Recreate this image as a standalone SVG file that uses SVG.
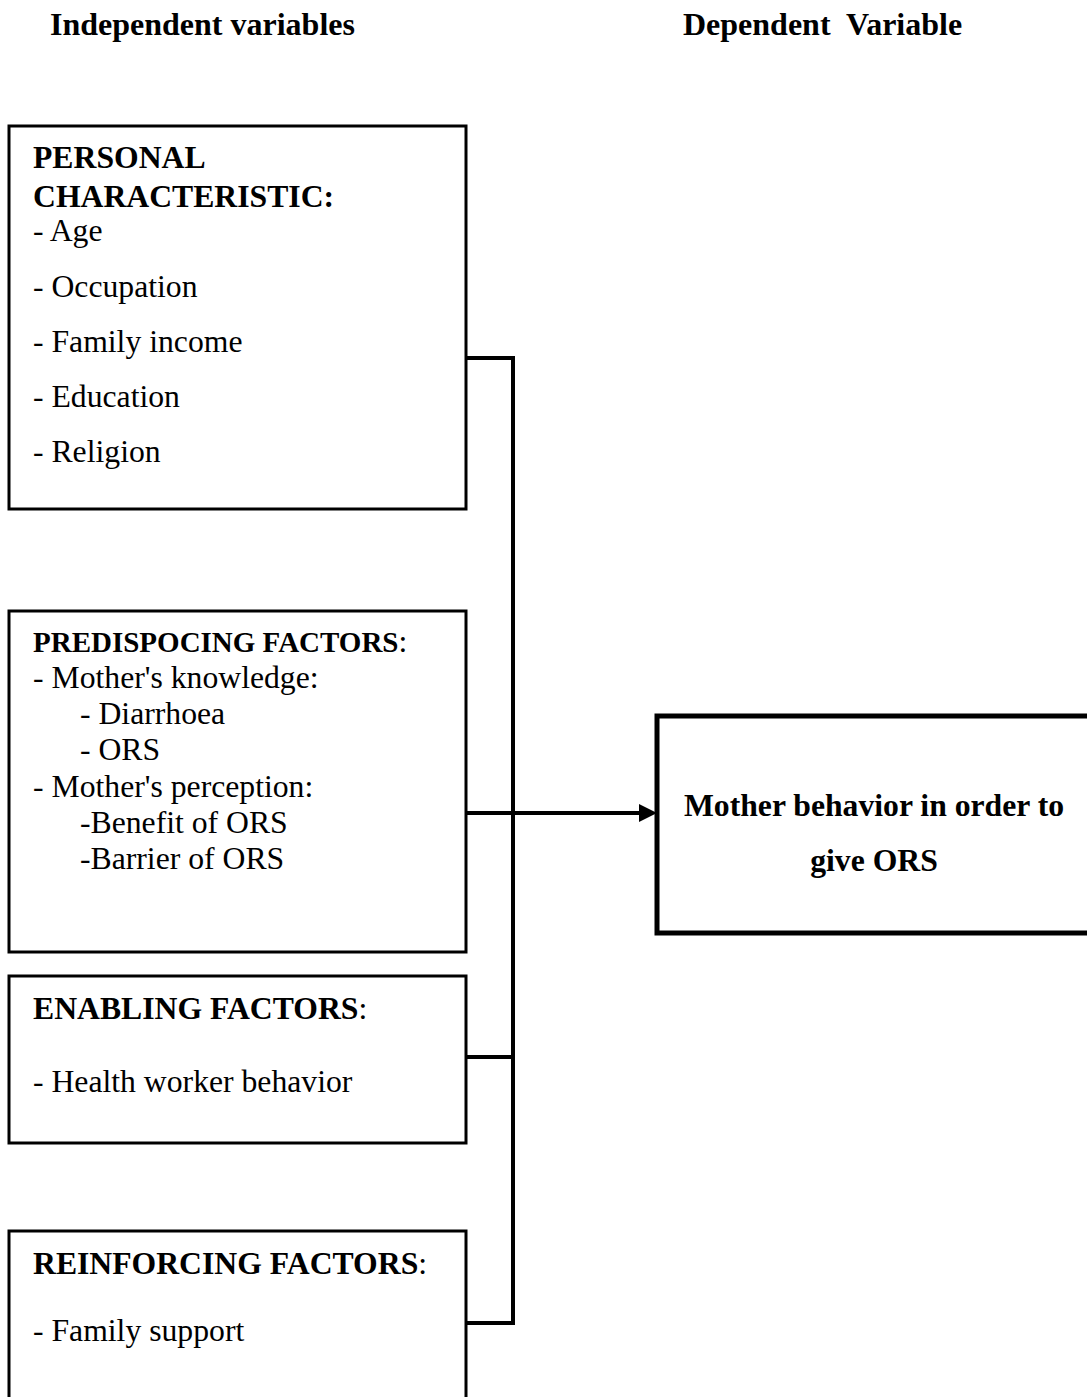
<svg xmlns="http://www.w3.org/2000/svg" width="1087" height="1397" viewBox="0 0 1087 1397">
<style>
.box{fill:#fff;stroke:#000;stroke-width:3}
.t{font-family:"Liberation Serif","Times New Roman",serif;font-size:31.7px;fill:#000}
.b{font-weight:bold}
.h{font-family:"Liberation Serif","Times New Roman",serif;font-size:32px;font-weight:bold;fill:#000}
.c{fill:none;stroke:#000;stroke-width:4}
</style>
<rect width="1087" height="1397" fill="#fff"/>
<g id="headings">
<text class="h" x="50" y="35">Independent variables</text>
<text class="h" x="683" y="35" xml:space="preserve">Dependent  Variable</text>
</g>
<g id="connectors">
<polyline class="c" points="466,358 513,358 513,1323 466,1323"/>
<line class="c" x1="513" y1="358" x2="513" y2="1323" stroke-width="5"/>
<line class="c" x1="466" y1="1057" x2="513" y2="1057"/>
<line class="c" x1="466" y1="813" x2="642" y2="813"/>
<polygon points="639,804 657,813 639,822" fill="#000"/>
</g>
<g id="personal">
<rect class="box" x="9" y="126" width="457" height="383"/>
<text class="t b" x="33" y="168">PERSONAL</text>
<text class="t b" x="33" y="207">CHARACTERISTIC:</text>
<text class="t" x="33" y="241">- Age</text>
<text class="t" x="33" y="297">- Occupation</text>
<text class="t" x="33" y="352">- Family income</text>
<text class="t" x="33" y="407">- Education</text>
<text class="t" x="33" y="462">- Religion</text>
</g>
<g id="predisposing">
<rect class="box" x="9" y="611" width="457" height="341"/>
<text class="t" x="33" y="652"><tspan class="b" font-size="29px">PREDISPOCING FACTORS</tspan>:</text>
<text class="t" x="33" y="688">- Mother's knowledge:</text>
<text class="t" x="80" y="724">- Diarrhoea</text>
<text class="t" x="80" y="760">- ORS</text>
<text class="t" x="33" y="797">- Mother's perception:</text>
<text class="t" x="80" y="833">-Benefit of ORS</text>
<text class="t" x="80" y="869">-Barrier of ORS</text>
</g>
<g id="enabling">
<rect class="box" x="9" y="976" width="457" height="167"/>
<text class="t" x="33" y="1019"><tspan class="b">ENABLING FACTORS</tspan>:</text>
<text class="t" x="33" y="1092">- Health worker behavior</text>
</g>
<g id="reinforcing">
<rect class="box" x="9" y="1231" width="457" height="180"/>
<text class="t" x="33" y="1274"><tspan class="b">REINFORCING FACTORS</tspan>:</text>
<text class="t" x="33" y="1341">- Family support</text>
</g>
<g id="outcome">
<rect x="657" y="716" width="440" height="217" fill="#fff" stroke="#000" stroke-width="5"/>
<text class="t b" x="874" y="816" text-anchor="middle">Mother behavior in order to</text>
<text class="t b" x="874" y="871" text-anchor="middle">give ORS</text>
</g>
</svg>
